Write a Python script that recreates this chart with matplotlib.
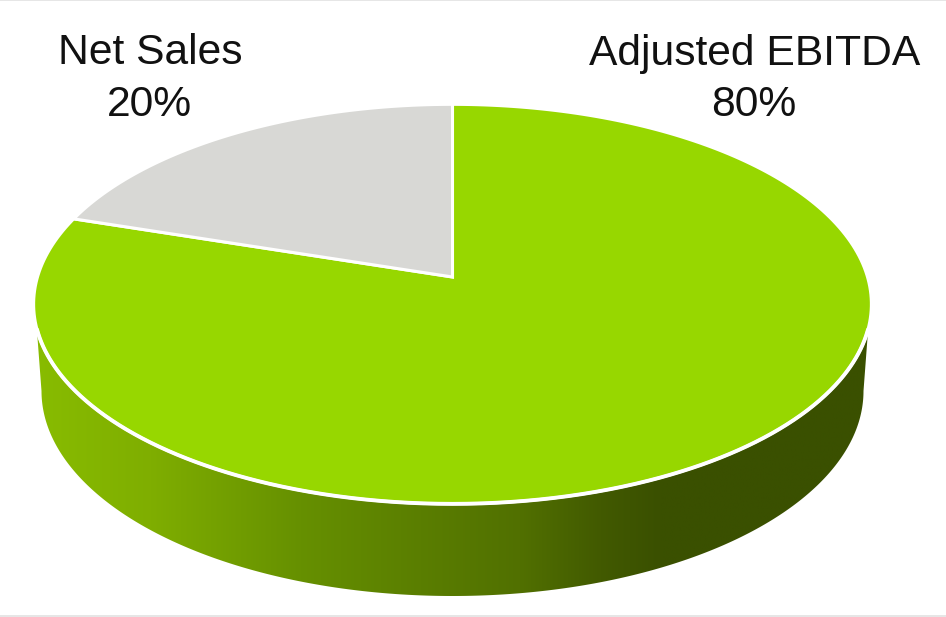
import numpy as np
import matplotlib
matplotlib.use("Agg")
import matplotlib.pyplot as plt
from matplotlib.colors import LinearSegmentedColormap
from matplotlib.patches import Polygon, Rectangle
from matplotlib.path import Path
from matplotlib.transforms import Transform, Affine2D

categories = ["Adjusted EBITDA", "Net Sales"]
shares = [80, 20]
slice_colors = ["#97D700", "#D8D8D5"]

# Perspective of the pie's top face, in pixels
CX, APEX_Y, SX, TILT, SY = 452.5, 277.0, 415.0, 0.1357, -158.5
# Lower outline of the pie's side wall
BASE_CY, BASE_RX, BASE_RY = 391.0, 411.0, 205.0
RIM_START_Y = 328.0
WALL_STOPS = [(36, "#88BC00"), (150, "#7FAE00"), (300, "#669000"), (420, "#5A7E00"),
              (520, "#517000"), (600, "#425A00"), (660, "#3A5000"), (870, "#3A5000")]


def project(xy):
    xy = np.asarray(xy, float)
    x, y = xy[..., 0], xy[..., 1]
    w = 1 + TILT * y
    return np.stack([CX + SX * x / w, (APEX_Y + SY * y) / w], axis=-1)


class Perspective(Transform):
    input_dims = output_dims = 2
    is_affine = False
    has_inverse = False

    def transform_non_affine(self, values):
        return project(values)

    def transform_path_non_affine(self, path):
        k = 2000.0
        polys = path.to_polygons(Affine2D().scale(k), closed_only=True)
        return Path(project(polys[0] / k), closed=True)


plt.rcParams["font.family"] = ["Liberation Sans", "DejaVu Sans"]
fig = plt.figure(figsize=(9.46, 6.17), dpi=100, facecolor="white")
ax = fig.add_axes([0, 0, 1, 1])

wedges, _ = ax.pie(shares, colors=slice_colors, startangle=90, counterclock=False,
                   wedgeprops={"edgecolor": "white", "linewidth": 2.2, "joinstyle": "miter"})
persp = Perspective()

ax.set_aspect("auto")
ax.set_xlim(0, 946)
ax.set_ylim(617, 0)
ax.set_axis_off()
for w in wedges:
    w.set_transform(persp + ax.transData)
    w.set_zorder(3)

# Side wall
t = np.linspace(0, 2 * np.pi, 1441)
rim = project(np.column_stack([np.cos(t), np.sin(t)]))
lower = rim[(rim[:, 1] > RIM_START_Y)]
lower = lower[np.argsort(lower[:, 0])]
a = np.linspace(np.pi, 0, 400)
base = np.column_stack([CX + BASE_RX * np.cos(a), BASE_CY + BASE_RY * np.sin(a)])
outline = np.vstack([lower[0], base, lower[::-1]])

x0, x1 = WALL_STOPS[0][0], WALL_STOPS[-1][0]
cmap = LinearSegmentedColormap.from_list(
    "wall", [((x - x0) / (x1 - x0), c) for x, c in WALL_STOPS], N=512)
img = ax.imshow(np.linspace(0, 1, 512)[None, :], cmap=cmap, aspect="auto",
                extent=(x0, x1, 600, 300), zorder=1, interpolation="bilinear")
clip = Polygon(outline, closed=True, transform=ax.transData, fill=False, edgecolor="none")
ax.add_patch(clip)
img.set_clip_path(clip)
ax.set_xlim(0, 946)
ax.set_ylim(617, 0)

ax.plot(lower[:, 0], lower[:, 1], color="white", lw=2.8, zorder=4, solid_capstyle="butt")

# Slim grey frame lines at the top and bottom of the image
ax.add_patch(Rectangle((0, 0), 946, 1.2, color="#E6E6E6", lw=0, zorder=0))
ax.add_patch(Rectangle((0, 615), 946, 2, color="#E6E6E6", lw=0, zorder=0))

label_x = {"Adjusted EBITDA": 755, "Net Sales": 150}
for cat, val in zip(categories, shares):
    ax.text(label_x[cat], 49, cat, ha="center", va="center_baseline", fontsize=30.7, color="#111111", zorder=5)
    ax.text(label_x[cat] - 1, 100, f"{val}%", ha="center", va="center_baseline", fontsize=30.7, color="#111111", zorder=5)

fig.savefig("out.png", dpi=100, facecolor="white")
